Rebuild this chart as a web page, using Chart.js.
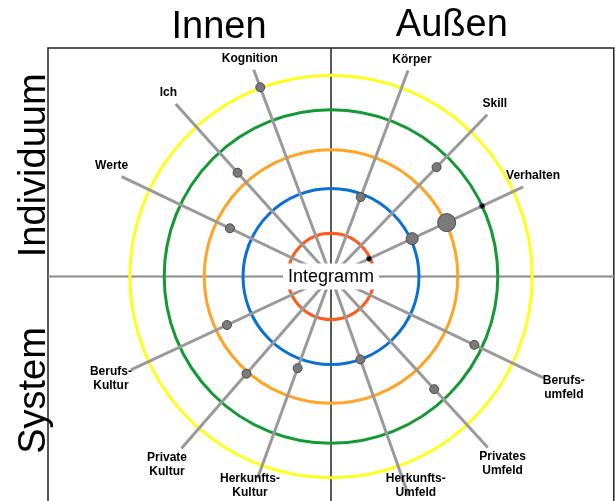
<!DOCTYPE html>
<html>
<head>
<meta charset="utf-8">
<script src="https://cdn.jsdelivr.net/npm/chart.js"></script>
<style>
  body { margin: 0; background: #fff; }
  #wrap { width: 615px; height: 501px; }
</style>
</head>
<body>
<div id="wrap"><canvas id="myChart" width="615" height="501"></canvas></div>
<script>
// spokes, clockwise from the top (angle in degrees)
const spokeLabels = [["Körper"], ["Skill"], ["Verhalten"], ["Berufs-", "umfeld"], ["Privates", "Umfeld"],
  ["Herkunfts-", "Umfeld"], ["Herkunfts-", "Kultur"], ["Private", "Kultur"], ["Berufs-", "Kultur"],
  ["Werte"], ["Ich"], ["Kognition"]];
const spokeAngles = [20.5, 44, 65, 115.5, 137.5, 160.5, 200, 221, 245, 295.5, 318, 339.5];
const spokeLength = [5.5, 5.62, 5.3, 5.9, 5.8, 5.8, 5.37, 5.7, 5.52, 5.8, 5.8, 5.52];
const spokeValues = [2.12, 3.8, null, 3.97, 3.82, 2.2, 2.44, 3.22, 2.87, 2.8, 3.49, 5.05];
// Verhalten carries four marks
const verhaltenValues = [1.05, 2.24, 3.19, 4.17];
const ringValues = [1.08, 2.2, 3.17, 4.17, 5.03];
const ringColors = ["#ff5a1e", "#0a70d2", "#ffa424", "#139a34", "#ffff1a"];
const quadrantTitles = ["Innen", "Außen", "Individuum", "System"];

function polar(angle, value) {
  const a = angle * Math.PI / 180;
  return { x: value * Math.sin(a), y: value * Math.cos(a) };
}

// frame box of the four quadrants (in axis units)
const frame = { left: -7.075, right: 7.07, top: 5.71 };

const spokeSets = spokeAngles.map(function (a, i) {
  return {
    type: "line",
    data: [{ x: 0, y: 0 }, polar(a, spokeLength[i])],
    borderColor: "#9a9a9a",
    borderWidth: 3,
    pointRadius: 0,
    order: 3,
  };
});

const markData = [];
spokeValues.forEach(function (v, i) {
  if (v != null) markData.push(polar(spokeAngles[i], v));
});

const integrammPlugin = {
  id: "integramm",
  beforeDatasetsDraw(chart) {
    const ctx = chart.ctx;
    const xs = chart.scales.x, ys = chart.scales.y;
    const cx = xs.getPixelForValue(0), cy = ys.getPixelForValue(0);
    const L = xs.getPixelForValue(frame.left), R = xs.getPixelForValue(frame.right);
    const T = ys.getPixelForValue(frame.top), B = chart.height;
    ctx.save();
    // quadrant frame
    ctx.strokeStyle = "#222";
    ctx.lineWidth = 1.5;
    ctx.beginPath();
    ctx.moveTo(L, B); ctx.lineTo(L, T); ctx.lineTo(R, T); ctx.lineTo(R, B);
    ctx.stroke();
    ctx.beginPath();
    ctx.moveTo(cx, T); ctx.lineTo(cx, B);
    ctx.stroke();
    ctx.strokeStyle = "#8a8a8a";
    ctx.lineWidth = 2;
    ctx.beginPath();
    ctx.moveTo(L, cy); ctx.lineTo(chart.width, cy);
    ctx.stroke();
    // rings
    ctx.lineWidth = 3;
    ringValues.forEach(function (r, i) {
      ctx.strokeStyle = ringColors[i];
      ctx.beginPath();
      ctx.arc(cx, cy, xs.getPixelForValue(r) - cx, 0, Math.PI * 2);
      ctx.stroke();
    });
    ctx.restore();
  },
  afterDatasetsDraw(chart) {
    const ctx = chart.ctx;
    const xs = chart.scales.x, ys = chart.scales.y;
    const cx = xs.getPixelForValue(0), cy = ys.getPixelForValue(0);
    ctx.save();
    // centre label
    ctx.fillStyle = "#fff";
    ctx.fillRect(cx - 48, cy - 13, 96, 26);
    ctx.fillStyle = "#000";
    ctx.font = "18px 'Liberation Sans', Arial, sans-serif";
    ctx.textAlign = "center";
    ctx.textBaseline = "middle";
    ctx.fillText("Integramm", cx, cy + 1);

    // spoke labels, just past the end of each spoke
    ctx.font = "bold 12px 'Liberation Sans', Arial, sans-serif";
    spokeLabels.forEach(function (lines, i) {
      const end = polar(spokeAngles[i], spokeLength[i]);
      const ex = xs.getPixelForValue(end.x), ey = ys.getPixelForValue(end.y);
      const a = spokeAngles[i] * Math.PI / 180;
      let lx, ly;
      if (Math.cos(a) > 0) {
        lx = ex + 11 * Math.sin(a);
        ly = ey - 11;
      } else {
        lx = ex + 22 * Math.sin(a);
        ly = ey - 22 * Math.cos(a);
      }
      const half = lines.length * 14 / 2;
      if (ly + half > chart.height - 1) ly = chart.height - 1 - half;
      lines.forEach(function (t, k) {
        ctx.fillText(t, lx, ly - half + 7 + k * 14);
      });
    });

    // quadrant titles
    ctx.font = "38px 'Liberation Sans', Arial, sans-serif";
    ctx.textBaseline = "alphabetic";
    ctx.fillText(quadrantTitles[0], xs.getPixelForValue(-2.8), 38);
    ctx.fillText(quadrantTitles[1], xs.getPixelForValue(3.02), 36);
    ctx.translate(45, ys.getPixelForValue(2.78));
    ctx.rotate(-Math.PI / 2);
    ctx.fillText(quadrantTitles[2], 0, 0);
    ctx.rotate(Math.PI / 2);
    ctx.translate(0, ys.getPixelForValue(-2.85) - ys.getPixelForValue(2.78));
    ctx.rotate(-Math.PI / 2);
    ctx.fillText(quadrantTitles[3], 0, 0);
    ctx.restore();
  },
};

const myChart = document.getElementById("myChart").getContext("2d");
let integramm = new Chart(myChart, {
  type: "scatter",
  data: {
    datasets: spokeSets.concat([
      {
        label: "marks",
        data: markData,
        backgroundColor: "#7a7a7a",
        borderColor: "#4a4a4a",
        borderWidth: 1,
        pointRadius: 4.5,
        order: 1,
      },
      {
        label: "Verhalten",
        data: verhaltenValues.map(function (v) { return polar(spokeAngles[2], v); }),
        backgroundColor: ["#000", "#7a7a7a", "#7a7a7a", "#000"],
        borderColor: "#4a4a4a",
        borderWidth: 1,
        pointRadius: [2.5, 6, 9, 2.5],
        order: 1,
      },
    ]),
  },
  options: {
    responsive: false,
    animation: false,
    layout: { padding: 0, autoPadding: false },
    plugins: { legend: { display: false }, tooltip: { enabled: false } },
    scales: {
      x: { type: "linear", min: -8.275, max: 7.1, display: false },
      y: { type: "linear", min: -5.6125, max: 6.9125, display: false },
    },
  },
  plugins: [integrammPlugin],
});
</script>
</body>
</html>
